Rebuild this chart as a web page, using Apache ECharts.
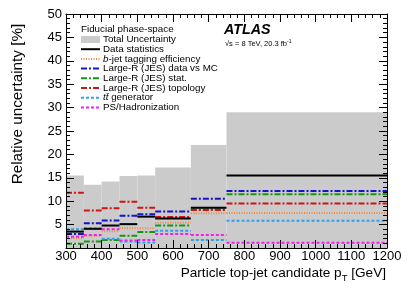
<!DOCTYPE html>
<html><head><meta charset="utf-8">
<script src="https://cdn.jsdelivr.net/npm/echarts@6/dist/echarts.min.js"></script>
<style>html,body{margin:0;padding:0;background:#fff}#c{width:407px;height:292px}</style>
</head><body><div id="c"></div><script>
// Bin edges in particle top-jet candidate pT [GeV]
const binEdges = [300, 350, 400, 450, 500, 550, 650, 750, 1200];
// Relative uncertainties [%] per bin
const totalUnc   = [15.5, 13.5, 14.2, 15.4, 15.5, 17.2, 22.0, 29.0];
const dataStat   = [3.5, 4.1, 4.8, 5.1, 6.7, 6.3, 8.6, 15.5];
const bTagEff    = [2.1, 2.6, 3.6, 4.2, 4.2, 5.4, 7.4, 7.5];
const jesDataMC  = [3.0, 5.3, 5.9, 6.9, 7.2, 7.8, 10.5, 12.2];
const jesStat    = [0.9, 1.4, 1.7, 2.6, 3.4, 4.8, 8.3, 11.5];
const jesTopo    = [11.8, 8.0, 8.5, 9.9, 8.6, 6.6, 8.1, 9.5];
const ttGen      = [4.0, 4.2, 2.0, 1.4, 1.2, 3.7, 1.7, 5.8];
const psHad      = [2.4, 2.8, 4.0, 1.6, 1.7, 3.0, 2.8, 1.1];
const xTicks = [300, 400, 500, 600, 700, 800, 900, 1000, 1100, 1200];
const yTicks = [0, 5, 10, 15, 20, 25, 30, 35, 40, 45, 50];

const FONT = 'Liberation Sans';
const chart = echarts.init(document.getElementById('c'), null, {renderer: 'canvas'});

function segData(vals) { return vals.map((v, i) => [binEdges[i], binEdges[i + 1], v]); }

const styles = {
  total:   {color: '#cbcbcb'},
  stat:    {color: '#000000', width: 2, dash: null},
  btag:    {color: '#f5843c', width: 2, dash: [1, 1.5]},
  jesMC:   {color: '#1515c8', width: 2, dash: [6, 2, 2, 2]},
  jesStat: {color: '#159615', width: 2, dash: [6, 2, 2, 2]},
  jesTopo: {color: '#cc1515', width: 2, dash: [6, 2, 2, 2]},
  ttGen:   {color: '#2ea0f0', width: 2, dash: [3, 2]},
  psHad:   {color: '#f020f0', width: 2, dash: [3, 2]}
};

function lineSeries(name, vals, st, z) {
  return {
    type: 'custom', name: name, data: segData(vals), z: z || 3,
    encode: {x: [0, 1], y: 2},
    renderItem: function (params, api) {
      const p0 = api.coord([api.value(0), api.value(2)]);
      const p1 = api.coord([api.value(1), api.value(2)]);
      return {type: 'line', shape: {x1: p0[0], y1: p0[1], x2: p1[0], y2: p1[1]},
        style: {stroke: st.color, lineWidth: st.width, lineDash: st.dash}};
    }
  };
}

const fillSeries = {
  type: 'custom', name: 'Total Uncertainty', data: segData(totalUnc), z: 1,
  encode: {x: [0, 1], y: 2},
  renderItem: function (params, api) {
    const p0 = api.coord([api.value(0), api.value(2)]);
    const p1 = api.coord([api.value(1), 0]);
    return {type: 'rect', shape: {x: p0[0], y: p0[1], width: p1[0] - p0[0], height: p1[1] - p0[1]},
      style: {fill: styles.total.color}};
  }
};

const tickCommon = {
  axisLine: {show: true, onZero: false, lineStyle: {color: '#000', width: 1}},
  axisTick: {show: true, inside: true, length: 8, lineStyle: {color: '#000', width: 1}},
  minorTick: {show: true, splitNumber: 5, length: 4, lineStyle: {color: '#000', width: 1}},
  splitLine: {show: false}, z: 10
};

const xBase = {type: 'value', min: xTicks[0], max: xTicks[xTicks.length - 1], interval: 100};
const yBase = {type: 'value', min: yTicks[0], max: yTicks[yTicks.length - 1], interval: 5};

function txt(o) { return Object.assign({fill: '#000', fontFamily: FONT}, o); }

// Legend drawn as graphic
const legendItems = [
  {key: 'total', text: 'Total Uncertainty'},
  {key: 'stat', text: 'Data statistics'},
  {key: 'btag', text: '{i|b}-jet tagging efficiency'},
  {key: 'jesMC', text: 'Large-R (JES) data vs MC'},
  {key: 'jesStat', text: 'Large-R (JES) stat.'},
  {key: 'jesTopo', text: 'Large-R (JES) topology'},
  {key: 'ttGen', text: '{i|t}{i|t\u0304} generator'},
  {key: 'psHad', text: 'PS/Hadronization'}
];
const LFS = 9.8;
const graphics = [];
const lx = 81, ly0 = 39.5, dy = 9.7;
graphics.push({type: 'text', x: lx, y: 29, z: 20,
  style: txt({text: 'Fiducial phase-space', fontSize: LFS, verticalAlign: 'middle'})});
legendItems.forEach((it, i) => {
  const y = ly0 + i * dy;
  const st = styles[it.key];
  if (it.key === 'total') {
    graphics.push({type: 'rect', shape: {x: lx, y: y - 3.5, width: 19, height: 7}, style: {fill: st.color}, z: 20});
  } else {
    graphics.push({type: 'line', shape: {x1: lx, y1: y, x2: lx + 19, y2: y},
      style: {stroke: st.color, lineWidth: st.width, lineDash: st.dash}, z: 20});
  }
  graphics.push({type: 'text', x: lx + 22, y: y, z: 20,
    style: txt({text: it.text, fontSize: LFS, verticalAlign: 'middle',
      rich: {i: {fontStyle: 'italic', fontSize: LFS, fontFamily: FONT}}})});
});
graphics.push({type: 'text', x: 224, y: 30, z: 20,
  style: txt({text: 'ATLAS', verticalAlign: 'middle', fontSize: 14.3, fontWeight: 'bold', fontStyle: 'italic'})});
graphics.push({type: 'text', x: 225, y: 44, z: 20,
  style: txt({text: '\u221As = 8 TeV, 20.3 fb{s|-1}', verticalAlign: 'middle', fontSize: 7.5,
    rich: {s: {fontSize: 5, fontFamily: FONT, padding: [0, 0, 5, 0]}}})});
graphics.push({type: 'text', x: 18, y: 104, rotation: Math.PI / 2, z: 20,
  style: txt({text: 'Relative uncertainty [%]', align: 'center', verticalAlign: 'middle', fontSize: 15.3})});
graphics.push({type: 'text', x: 386, y: 273, z: 20,
  style: txt({text: 'Particle top-jet candidate p{sub|T} [GeV]', align: 'right', verticalAlign: 'middle',
    fontSize: 13.6, rich: {sub: {fontSize: 9.5, fontFamily: FONT, padding: [11, 0, 0, 0]}}})});

chart.setOption({
  animation: false,
  backgroundColor: '#fff',
  grid: {left: 66, right: 20, top: 14, bottom: 44, containLabel: false},
  xAxis: [
    Object.assign({}, xBase, tickCommon, {position: 'bottom',
      axisLabel: {color: '#000', fontSize: 13, fontFamily: FONT, margin: 2, hideOverlap: false,
        formatter: v => String(v)}}),
    Object.assign({}, xBase, tickCommon, {position: 'top', axisLabel: {show: false}})
  ],
  yAxis: [
    Object.assign({}, yBase, tickCommon, {position: 'left',
      axisLabel: {color: '#000', fontSize: 13, fontFamily: FONT, margin: 4,
        formatter: v => (v === 0 ? '' : String(v))}}),
    Object.assign({}, yBase, tickCommon, {position: 'right', axisLabel: {show: false}})
  ],
  series: [
    fillSeries,
    lineSeries('b-jet tagging efficiency', bTagEff, styles.btag, 3),
    lineSeries('Large-R (JES) data vs MC', jesDataMC, styles.jesMC, 3),
    lineSeries('Large-R (JES) stat.', jesStat, styles.jesStat, 3),
    lineSeries('Large-R (JES) topology', jesTopo, styles.jesTopo, 3),
    lineSeries('tt generator', ttGen, styles.ttGen, 3),
    lineSeries('PS/Hadronization', psHad, styles.psHad, 3),
    lineSeries('Data statistics', dataStat, styles.stat, 4)
  ],
  graphic: graphics
});
</script></body></html>
